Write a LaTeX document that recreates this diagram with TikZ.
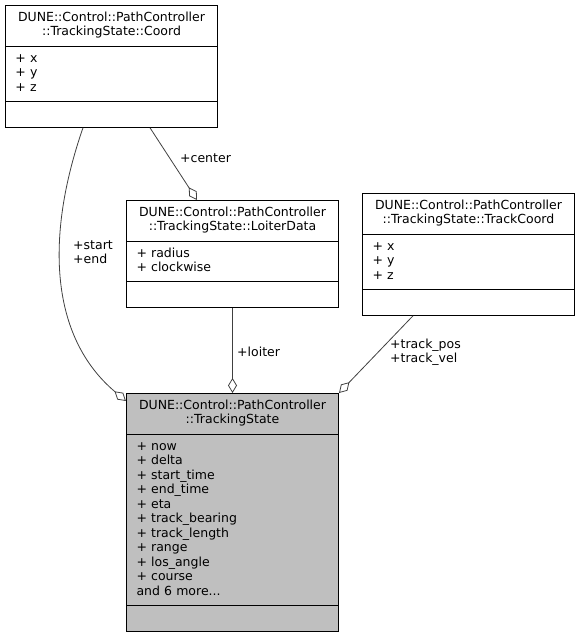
\documentclass[tikz,border=0pt]{standalone}
\usepackage{fontspec}
\setmainfont{DejaVu Sans}
\usetikzlibrary{shapes.multipart, arrows.meta, calc}

\newcommand{\umlfont}{\fontsize{12.5}{14.5}\selectfont}

\begin{document}
\begin{tikzpicture}[x=1pt, y=1pt,
    classbox/.style = {shape=rectangle split, rectangle split parts=3,
    draw, line width=1pt, anchor=north west, align=left,
    text width=192pt, inner xsep=10pt, inner ysep=5.3pt, font=\umlfont},
    assoc/.style={draw=black!75, line width=0.8pt,
      -{Diamond[open, length=15pt, width=9pt]}},
    lbl/.style={anchor=west, align=left, font=\umlfont, inner sep=0pt}]

  \useasboundingbox (0,0) rectangle (579,637);

  \node[classbox] (coord) at (5,632)
    {{\centering\strut DUNE::Control::PathController\\\strut ::TrackingState::Coord\par}
     \nodepart{two}\strut + x\\\strut + y\\\strut + z
     \nodepart{three}\strut};

  \node[classbox] (loiter) at (126,437)
    {{\centering\strut DUNE::Control::PathController\\\strut ::TrackingState::LoiterData\par}
     \nodepart{two}\strut + radius\\\strut + clockwise
     \nodepart{three}\strut};

  \node[classbox] (trackc) at (362,444)
    {{\centering\strut DUNE::Control::PathController\\\strut ::TrackingState::TrackCoord\par}
     \nodepart{two}\strut + x\\\strut + y\\\strut + z
     \nodepart{three}\strut};

  \node[classbox, fill=black!25] (state) at (126,244)
    {{\centering\strut DUNE::Control::PathController\\\strut ::TrackingState\par}
     \nodepart{two}\strut + now\\\strut + delta\\\strut + start\_time\\\strut + end\_time\\
     \strut + eta\\\strut + track\_bearing\\\strut + track\_length\\\strut + range\\
     \strut + los\_angle\\\strut + course\\\strut and 6 more...
     \nodepart{three}\strut};

  % associations
  \draw[assoc] ($(coord.south west)+(78,0)$)
    .. controls (45,400) and (50,300) .. ([yshift=-8pt]state.north west);
  \draw[assoc] ($(coord.south west)+(145,0)$) -- ($(loiter.north west)+(71,0)$);
  \draw[assoc] (loiter.south) -- (state.north);
  \draw[assoc] ($(trackc.south west)+(51,0)$) -- (state.north east);

  \node[lbl] (lblcenter) at (180,479) {+center};
  \node[lbl] (lblstart) at (73,385) {+start\\+end};
  \node[lbl] (lblloiter) at (237,285) {+loiter};
  \node[lbl] (lbltrack) at (390,285) {+track\_pos\\+track\_vel};
\end{tikzpicture}
\end{document}
